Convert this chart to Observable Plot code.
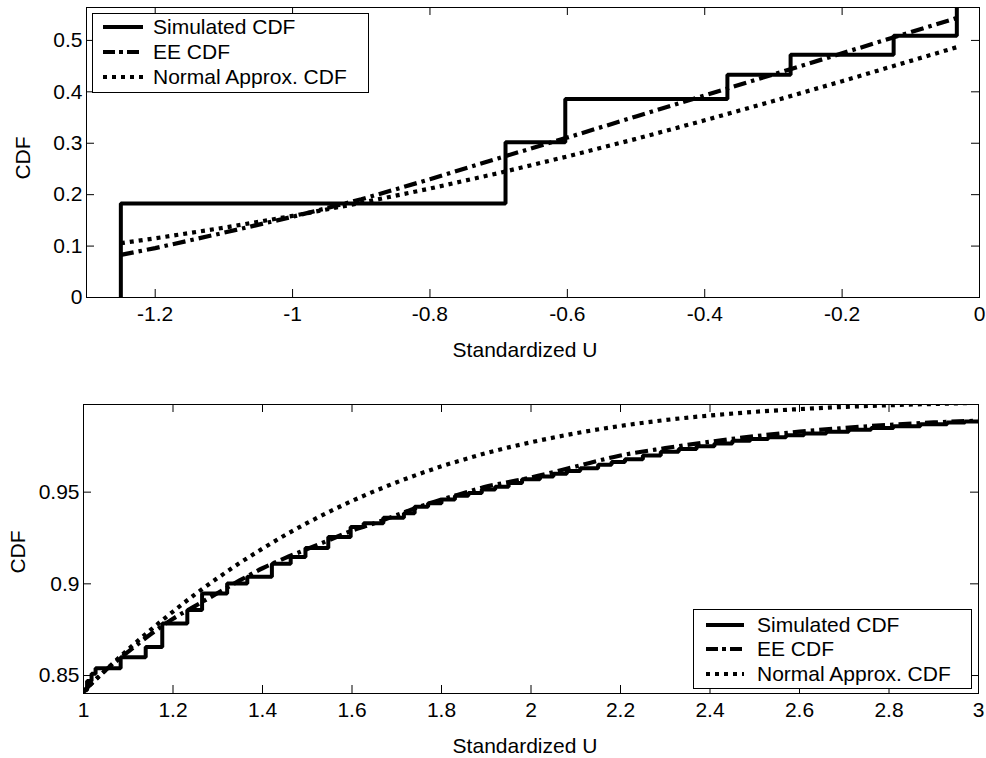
<!DOCTYPE html>
<html><head><meta charset="utf-8">
<script src="https://cdn.jsdelivr.net/npm/d3@7"></script>
<script src="https://cdn.jsdelivr.net/npm/@observablehq/plot@0.6"></script>
<style>
html,body{margin:0;padding:0;background:#fff;}
#chart{width:986px;}
#chart svg{display:block;}
</style></head><body><div id="chart"></div>
<script>
// ---------- Top panel data ----------
const topX      = [-1.25, -1.2, -1.1, -1.0, -0.9, -0.8, -0.7, -0.6, -0.5, -0.4, -0.3, -0.2, -0.1, -0.03];
const topEE     = [0.083, 0.096, 0.126, 0.157, 0.191, 0.230, 0.271, 0.311, 0.352, 0.393, 0.434, 0.475, 0.516, 0.545];
const topNormal = [0.1056, 0.1151, 0.1357, 0.1587, 0.1841, 0.2119, 0.2420, 0.2743, 0.3085, 0.3446, 0.3821, 0.4207, 0.4602, 0.4880];
const topSimX   = [-1.25, -1.25, -0.69, -0.603, -0.367, -0.275, -0.125, -0.033];
const topSimY   = [0, 0.183, 0.302, 0.386, 0.433, 0.472, 0.509, 0.6];
const topXTicks = [-1.2, -1, -0.8, -0.6, -0.4, -0.2, 0];
const topYTicks = [0, 0.1, 0.2, 0.3, 0.4, 0.5];

// ---------- Bottom panel data ----------
const botX      = [1.0, 1.05, 1.1, 1.15, 1.2, 1.25, 1.3, 1.35, 1.4, 1.45, 1.5, 1.55, 1.6, 1.65, 1.7, 1.75, 1.8, 1.85, 1.9, 1.95, 2.0, 2.1, 2.2, 2.3, 2.4, 2.5, 2.6, 2.7, 2.8, 2.9, 3.0];
const botEE     = [0.8413, 0.853, 0.863, 0.8725, 0.881, 0.888, 0.895, 0.902, 0.9085, 0.914, 0.919, 0.924, 0.929, 0.933, 0.9375, 0.942, 0.946, 0.9495, 0.953, 0.9555, 0.958, 0.964, 0.970, 0.974, 0.9775, 0.9805, 0.983, 0.985, 0.9867, 0.988, 0.989];
const botNormal = [0.8413, 0.8531, 0.8643, 0.8749, 0.8849, 0.8944, 0.9032, 0.9115, 0.9192, 0.9265, 0.9332, 0.9394, 0.9452, 0.9505, 0.9554, 0.9599, 0.9641, 0.9678, 0.9713, 0.9744, 0.9772, 0.9821, 0.9861, 0.9893, 0.9918, 0.9938, 0.9953, 0.9965, 0.9974, 0.9981, 0.9987];
const botSimX   = [1.0, 1.0, 1.008, 1.018, 1.027, 1.083, 1.139, 1.176, 1.232, 1.265, 1.321, 1.366, 1.421, 1.463, 1.496, 1.547, 1.597, 1.626, 1.670, 1.716, 1.740, 1.77, 1.80, 1.83, 1.86, 1.89, 1.92, 1.95, 1.98, 2.02, 2.05, 2.08, 2.11, 2.15, 2.18, 2.21, 2.25, 2.29, 2.33, 2.37, 2.41, 2.45, 2.49, 2.53, 2.57, 2.61, 2.66, 2.71, 2.76, 2.81, 2.87, 2.93, 2.97, 3.0];
const botSimY   = [0.838, 0.842, 0.847, 0.851, 0.854, 0.860, 0.8656, 0.8784, 0.8857, 0.8948, 0.9002, 0.9038, 0.911, 0.9147, 0.9195, 0.9256, 0.931, 0.933, 0.936, 0.9385, 0.942, 0.944, 0.946, 0.948, 0.9495, 0.9515, 0.953, 0.955, 0.957, 0.9585, 0.960, 0.9615, 0.963, 0.965, 0.9665, 0.968, 0.970, 0.972, 0.9735, 0.975, 0.9765, 0.978, 0.979, 0.980, 0.981, 0.982, 0.983, 0.984, 0.985, 0.986, 0.987, 0.988, 0.9885, 0.9885];
const botXTicks = [1, 1.2, 1.4, 1.6, 1.8, 2, 2.2, 2.4, 2.6, 2.8, 3];
const botYTicks = [0.85, 0.9, 0.95];

const seriesNames = ["Simulated CDF", "EE CDF", "Normal Approx. CDF"];

const FONT = "'Liberation Sans', Arial, Helvetica, sans-serif";
const FS = 21;
const DASHDOT = "13,5,3.5,5";
const DOTTED = "4,5";

function zip(xs, ys) {
  if (xs.length !== ys.length) throw new Error("length mismatch " + xs.length + " vs " + ys.length);
  return xs.map((x, i) => ({x, y: ys[i]}));
}

function panel(o) {
  const innerW = o.W - o.ml - o.mr, innerH = o.H - o.mt - o.mb, TL = 8;
  const chart = Plot.plot({
    width: o.W, height: o.H,
    marginLeft: o.ml, marginRight: o.mr, marginTop: o.mt, marginBottom: o.mb,
    style: {fontFamily: FONT, fontSize: FS + "px", color: "black", background: "white"},
    x: {domain: o.xDomain},
    y: {domain: o.yDomain},
    marks: [
      Plot.line(o.norm, {x: "x", y: "y", stroke: "black", strokeWidth: 4.2, strokeDasharray: DOTTED, strokeLinecap: "butt", curve: o.curve, clip: true}),
      Plot.line(o.ee, {x: "x", y: "y", stroke: "black", strokeWidth: 4.2, strokeDasharray: DASHDOT, strokeLinecap: "butt", curve: o.curve, clip: true}),
      Plot.line(o.sim, {x: "x", y: "y", stroke: "black", strokeWidth: 4, strokeLinejoin: "miter", strokeLinecap: "butt", curve: "step-after", clip: true}),
      Plot.frame({stroke: "black", strokeWidth: 1}),
      Plot.tickX(o.xTicks, {x: d => d, insetTop: innerH - TL, stroke: "black", strokeWidth: 1}),
      Plot.tickX(o.xTicks, {x: d => d, insetBottom: innerH - TL, stroke: "black", strokeWidth: 1}),
      Plot.tickY(o.yTicks, {y: d => d, insetRight: innerW - TL, stroke: "black", strokeWidth: 1}),
      Plot.tickY(o.yTicks, {y: d => d, insetLeft: innerW - TL, stroke: "black", strokeWidth: 1}),
      Plot.axisX({ticks: o.xTicks, tickSize: 0, tickPadding: 9, tickFormat: d => String(d), fontSize: FS, label: null}),
      Plot.axisY({ticks: o.yTicks, tickSize: 0, tickPadding: 4, tickFormat: d => String(d), fontSize: FS, label: null})
    ]
  });
  const svg = d3.select(chart);
  // axis titles
  svg.append("text").attr("x", o.xlab[0]).attr("y", o.xlab[1])
    .attr("text-anchor", "middle").attr("font-family", FONT).attr("font-size", FS).attr("fill", "black")
    .text("Standardized U");
  svg.append("text").attr("transform", `translate(${o.ylab[0] + 7.5},${o.ylab[1]}) rotate(-90)`)
    .attr("text-anchor", "middle").attr("font-family", FONT).attr("font-size", FS).attr("fill", "black")
    .text("CDF");
  // legend
  const L = o.legend;
  const g = svg.append("g").attr("text-anchor", "start");
  g.append("rect").attr("x", L.x0 + 0.5).attr("y", L.y0 + 0.5).attr("width", L.x1 - L.x0).attr("height", L.y1 - L.y0)
    .attr("fill", "white").attr("stroke", "black").attr("stroke-width", 1);
  const styles = [
    {w: 4, dash: null},
    {w: 4.2, dash: "12,4,4,4"},
    {w: 4.2, dash: DOTTED}
  ];
  seriesNames.forEach((name, i) => {
    const yy = L.rows[i];
    const ln = g.append("line").attr("x1", L.lx0).attr("x2", L.lx1).attr("y1", yy).attr("y2", yy)
      .attr("stroke", "black").attr("stroke-width", styles[i].w).attr("stroke-linecap", "butt");
    if (styles[i].dash) ln.attr("stroke-dasharray", styles[i].dash);
    g.append("text").attr("x", L.tx).attr("y", yy).attr("dy", "0.35em").attr("text-anchor", "start")
      .attr("font-family", FONT).attr("font-size", FS).attr("fill", "black").text(name);
  });
  return chart;
}

const root = document.getElementById("chart");
root.appendChild(panel({
  W: 986, H: 370, mt: 7, mr: 7, mb: 73, ml: 86,
  xDomain: [-1.3, 0], yDomain: [0, 0.564],
  xTicks: topXTicks, yTicks: topYTicks,
  sim: zip(topSimX, topSimY), ee: zip(topX, topEE), norm: zip(topX, topNormal),
  curve: "linear",
  xlab: [525, 357], ylab: [22, 158],
  legend: {x0: 92, y0: 13, x1: 368, y1: 92, rows: [27, 52, 77], lx0: 103, lx1: 143, tx: 153}
}));
root.appendChild(panel({
  W: 986, H: 388, mt: 34, mr: 8, mb: 65, ml: 83,
  xDomain: [1, 3], yDomain: [0.8402, 0.9978],
  xTicks: botXTicks, yTicks: botYTicks,
  sim: zip(botSimX, botSimY), ee: zip(botX, botEE), norm: zip(botX, botNormal),
  curve: "monotone-x",
  xlab: [525, 383], ylab: [17, 182],
  legend: {x0: 693, y0: 239, x1: 971, y1: 318, rows: [255, 279, 304], lx0: 706, lx1: 744, tx: 757}
}));
</script></body></html>
